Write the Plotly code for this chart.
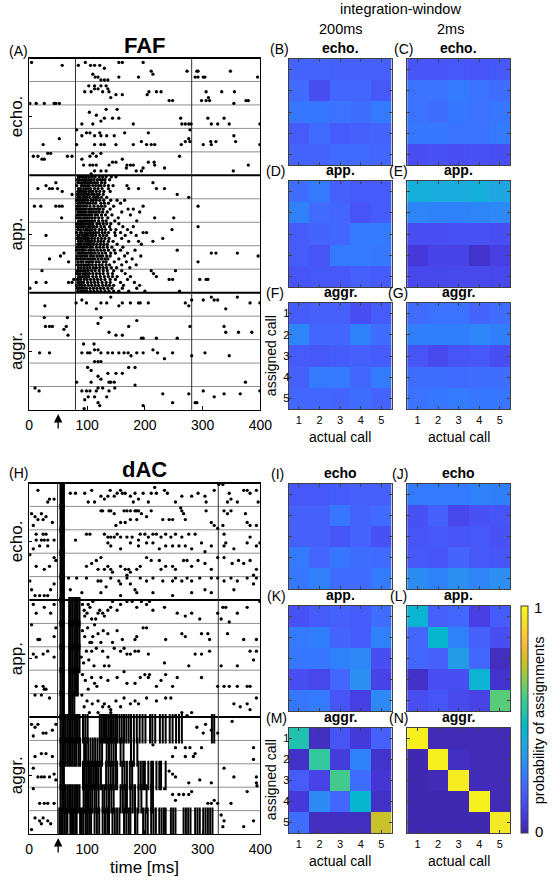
import plotly.graph_objects as go

# ---------------- data ----------------
TIME_TICKS = [0, 100, 200, 300, 400]
CALL_TICKS = [1, 2, 3, 4, 5]
GROUP_NAMES = ["echo.", "app.", "aggr."]
N_REPS = 8

# FAF raster: per call, 8 repetition strings of spike times (ms)
faf_echo = [
    ["", "4 97 155 161 197", "57 85 106 113 122", "130", "211 273 290 292 348", "110 214",
     "114 119 155 189 287 292 301 304 395", "124 130 136"],
    ["", "103 113 124 133", "113 119 136", "96 107 127 138 207 220 228 306 333 355", "150 161 204",
     "141 310", "242 248 298 306 312 375 379", "1 12 26 43 46 52 354"],
    ["", "133 152", "104", "116", "130 144 155 262 309 337", "124",
     "91 110 180 264 270 276 280 315 326 346 399", ""],
    ["82 278", "99 105 122 165 206", "91 113 124 134 147 354", "52 276", "194 270 278 314 323 357",
     "24 82 113 124 130 150 180 203 211 217 263 301 315 399", "", ""],
    ["32 37 110 124", "7 15 66 74 105 116 260", "22 26 91 161", "144 150 206 216",
     "94 105 110 116 138 169 175 180 217 379", "168 197 234", "113 124 133 185 194 353", "107"],
]
faf_app = [
    ["85 88 92 95 99 104 109 114 121 127 133 142 150",
     "83 87 92 96 99 103 107 112 118 123 127 131 139",
     "46 84 86 90 94 97 101 105 108 113 118 125 131 214",
     "29 82 90 93 97 101 104 110 115 120 124 130 137 145 169",
     "15 35 40 49 85 89 94 98 102 106 113 119 126 137 172 189 220 234",
     "57 84 87 91 95 98 103 107 110 116 122 129 140",
     "74 83 86 89 93 96 100 103 108 112 117 121 128 256",
     "84 88 93 97 100 105 111 115 119 125 134 276"],
    ["82 86 90 93 96 101 107 111 116 122 129 141 152 165",
     "84 87 90 94 98 101 105 110 115 124 130 137 158",
     "9 20 46 52 57 83 85 89 94 99 105 112 119 125 131 146 197 292",
     "82 86 88 92 95 99 104 108 113 118 122 128 140 171 180",
     "84 88 91 95 98 103 107 111 116 121 127 135 160 191",
     "83 86 90 93 97 101 105 108 114 118 125 132 143 175",
     "56 82 86 89 94 97 100 104 109 114 120 126 136 154 217 250",
     "85 89 92 96 100 104 108 113 120 127 133 148 186"],
    ["82 86 89 92 95 99 103 106 110 117 122 128 134 141 155",
     "83 87 90 93 97 102 105 108 112 117 124 130 139 162 180 292",
     "84 85 89 94 98 101 105 109 114 121 126 132 141 150 170 247",
     "82 88 91 96 100 104 107 111 115 120 126 131 137 148 158 176 197 203",
     "29 84 87 92 95 98 101 106 110 115 122 128 134 149 166 185",
     "83 86 90 94 97 100 103 108 113 119 125 131 138 160 231",
     "85 89 92 97 101 105 108 113 119 124 129 137 145 172 189 214",
     "84 87 90 95 99 103 106 111 117 123 129 135 152 194"],
    ["83 86 90 93 96 100 105 109 116 122 128 135 143 162",
     "82 87 91 93 97 103 107 112 118 124 130 137 147 158 183 256",
     "60 84 86 90 94 98 102 106 109 114 120 126 132 141 149 170 315 323 360",
     "54 83 88 92 96 100 106 111 117 122 127 134 140 165 193 396",
     "35 82 85 89 92 96 101 105 109 113 119 125 131 136 155 178",
     "68 84 89 93 99 103 107 110 116 121 128 133 147 168 292",
     "83 86 90 94 98 102 104 109 115 121 126 133 139 160 185",
     "85 90 95 100 105 111 116 122 128 134 142 151 174"],
    ["22 83 86 90 94 97 102 108 114 121 128 135 146 160 211 253",
     "82 84 88 93 97 100 104 110 116 122 128 136 144 166 215",
     "85 88 92 96 99 103 110 116 123 130 137 144 152 175 220",
     "77 83 85 89 95 100 106 112 118 124 131 140 149 170 242 248 295 306 309",
     "12 29 68 74 84 87 90 94 101 107 113 119 126 133 140 158 182",
     "82 87 91 96 102 108 114 120 127 133 139 146 163 191",
     "1 83 86 90 94 99 105 111 117 123 129 136 143 161 186",
     "84 89 93 97 100 106 112 118 124 131 138 146 155 172 200 260"],
]
faf_aggr = [
    ["", "141 315 360", "91 281 301 320 326", "81 99 124 134 161 175 189 192 206 270 382 399",
     "27 155 276", "116 340", "", ""],
    ["26 66 124", "186", "119", "28 35 40 64 172 278 337", "60", "138 340 362 385", "67 150 161",
     "194 197 220 256"],
    ["", "94 112", "", "113 119 214", "18 35 91 101 105 124 136 144 155 164 171 186 197 222 248 304",
     "176 281 346", "234", "113 119 124"],
    ["", "101 172 183", "107", "136 150 161", "119", "124", "82 107 138 141 147 374", "183"],
    ["10 119 127 148", "17 91 99 105 116 138 301 399", "231 276 337 365", "102 113 134 320", "96",
     "119 248 287 290", "122 197", "95"],
]

# dAC raster: per call, "time:repetition" spikes
dac_echo = [
    "15:2 32:6 35:5 43:5 71:3 80:3 96:3 108:2 102:6 113:6 124:4 130:5 136:4 140:2 147:4 152:3 158:2 "
    "161:3 166:3 175:4 183:3 180:6 189:5 197:3 206:6 211:3 217:1 220:3 234:2 239:3 253:6 264:4 281:4 "
    "292:3 304:4 306:6 320:2 328:0 335:0 343:6 349:5 360:6 371:2 377:2 382:3 393:2 396:6 346:3",
    "4:2 10:3 15:4 21:2 24:4 29:3 7:6 40:5 124:1 127:1 138:1 141:1 147:2 164:1 169:1 175:1 183:1 186:1 "
    "189:1 211:1 262:0 264:1 267:2 270:4 231:4 242:4 248:4 194:2 203:3 186:4 175:4 158:5 166:5 150:6 "
    "306:1 315:5 320:6 326:7 335:6 337:1 343:2 374:2 377:5 382:6 393:6 349:1",
    "7:6 12:3 21:3 26:3 32:3 12:1 24:1 29:1 18:5 32:5 43:3 80:3 99:1 105:1 130:1 136:2 141:2 147:2 "
    "152:1 158:2 169:2 178:2 189:3 192:1 200:1 206:2 214:1 220:1 228:2 236:1 245:2 253:1 264:2 276:1 "
    "287:1 298:4 136:4 141:5 158:6 175:4 189:5 203:4 214:4 225:6 236:5 248:5 259:5 270:5 281:6 304:7 "
    "315:5 337:1 340:4 377:4 382:2 393:5 399:4 337:5 354:6",
    "1:0 12:4 26:5 35:4 43:1 46:2 99:4 108:3 116:2 124:1 119:5 130:5 136:4 141:5 144:6 158:4 166:5 "
    "172:5 175:6 186:5 192:4 203:1 211:2 225:2 236:4 228:5 248:4 253:5 267:2 273:2 281:4 292:2 304:3 "
    "315:5 326:1 337:1 351:3 362:2 371:3 382:2 393:5 388:7 169:7",
    "1:1 4:4 10:6 18:6 26:6 32:6 37:4 43:2 68:0 71:4 82:0 99:0 119:1 124:1 133:3 141:0 155:1 158:2 "
    "169:0 175:2 183:4 192:0 203:1 214:0 231:1 248:1 253:0 264:1 273:0 281:1 295:0 304:4 315:0 326:0 "
    "337:1 349:0 360:1 377:0 388:2 393:0 354:4 315:5 281:5 248:6 214:5 186:5 158:6 124:5 91:5",
]
dac_app = [
    "7:1 12:4 26:2 37:4 43:1 102:1 122:3 127:4 136:3 141:2 144:0 152:3 158:1 169:0 178:0 186:2 194:0 "
    "203:1 208:0 214:3 234:2 256:4 270:5 281:4 295:6 326:4 335:2 340:2 332:6 346:7 360:4 377:2 399:0 "
    "130:5 108:6 96:5 119:4 92:1 95:3 100:4 105:2 110:0 115:6",
    "4:0 15:5 18:5 43:4 46:1 110:4 119:3 136:3 152:2 161:5 183:5 186:4 197:1 203:1 236:5 264:3 270:4 "
    "298:3 309:3 312:5 343:3 371:5 393:5 124:6 144:6 108:6 92:2 96:4 101:1 105:6 113:0 128:2",
    "7:2 12:3 24:2 32:1 43:3 108:1 116:0 127:1 136:3 147:0 158:1 164:0 169:2 175:2 183:1 189:1 206:2 "
    "234:5 276:6 287:2 298:2 312:1 332:6 360:6 382:1 388:4 393:1 130:6 138:6 90:3 94:5 99:1 103:4 112:6",
    "12:5 24:5 26:6 29:6 124:2 136:3 152:2 164:0 169:4 183:4 192:2 200:1 206:2 208:1 220:5 228:3 236:1 "
    "248:5 256:2 298:2 326:5 337:5 346:5 360:5 377:5 382:5 113:4 92:1 97:3 102:6 108:2 117:5",
    "10:0 21:0 35:1 119:2 127:4 130:3 138:4 141:5 150:2 158:4 164:1 175:3 183:2 189:3 203:1 220:2 236:1 "
    "245:1 253:7 264:6 273:7 281:6 354:3 365:4 377:3 382:5 393:1 119:6 127:7 141:6 91:0 95:4 100:2 "
    "104:6 109:3",
]
dac_aggr = [
    "4:2 10:3 15:2 24:5 29:5 40:4 7:6 46:2 301:5 315:4 326:5 351:1 290:3 305:2",
    "10:5 21:4 29:4 40:5 214:1 253:2 270:2 278:2 287:4 298:2 248:5 270:5 284:5 388:2 388:6",
    "7:1 15:4 21:4 26:4 35:4 43:3 46:5 242:2 248:3 253:4 276:6 295:5 315:6 337:1 354:4 393:4 393:6 394:7",
    "7:0 18:5 26:5 32:5 43:5 234:0 248:2 259:2 267:2 276:2 281:1 253:4 309:5 315:5 320:4 326:5 349:5 377:1",
    "10:2 18:3 24:2 32:3 37:4 21:4 4:6 332:1 337:3 335:5 371:5 388:3",
]
# phase-locked spikes present in every repetition (times, ms)
dac_echo_bars = ["54 56 58 60", "54 56 58 60", "54 56 58 60", "54 56 58 60", "54 56 58 60"]
dac_app_bars = [
    "54 57 60 69 72 75 78 81 84 87",
    "54 57 60 69 72 75 78 81 84 87",
    "54 57 60 69 72 75 78 81 84 87",
    "54 57 60 69 72 75 78 81 84",
    "54 57 60 69 72 75 78",
]
dac_aggr_bars = [
    "54 57 60 63 66 69 72 75 78 81 84 87 93 97 101 122 125 128 131 134 137 140 143 146 149 152 "
    "156 160 164 168 172 176 181 186 191 196 201 209 213 218 226 231 236 243 248 254 259 264 316 320",
    "54 57 60 63 66 69 72 75 78 81 85 88 95 98 102 106 110 114 118 122 126 134 138 142 146 150 "
    "158 163 176 181 187",
    "54 57 60 93 96 99 102 105 108 111 114 117 120 124 133 137 141 145 149 152 161 165 169 174 178 "
    "189 193 197 200 206 211 214 220 225 228 236",
    "54 57 60 63 66 69 72 75 78 81 84 87 94 97 100 103 106 109 113 116 120 127 130 134 138 142 146 "
    "158 162 166 169 175 179 183 189 194 203 211 214",
    "52 55 58 61 64 66 71 74 77 80 82 88 91 94 98 101 104 107 113 117 121 127 131 135 138 144 148 "
    "152 156 164 168 172 175 183 187 197 201 205 211 215 219 225 229 233 236 245 249 253 267 271 "
    "275 279 287 291 295 301 305 309 313 317",
]
faf_vlines = [80, 281]
dac_vlines = [49, 327]
stim_time = 50

# probability of assignments (rows: assigned call 1-5, cols: actual call 1-5)
faf_200_echo = [[0.19, 0.19, 0.18, 0.18, 0.18], [0.21, 0.13, 0.20, 0.20, 0.16],
                [0.24, 0.24, 0.23, 0.22, 0.25], [0.17, 0.21, 0.17, 0.18, 0.19],
                [0.19, 0.19, 0.21, 0.21, 0.20]]
faf_2_echo = [[0.15, 0.15, 0.16, 0.15, 0.16], [0.23, 0.23, 0.25, 0.23, 0.22],
              [0.23, 0.22, 0.24, 0.23, 0.24], [0.24, 0.24, 0.23, 0.23, 0.25],
              [0.13, 0.14, 0.13, 0.14, 0.13]]
faf_200_app = [[0.22, 0.25, 0.18, 0.17, 0.17], [0.27, 0.21, 0.20, 0.15, 0.17],
               [0.17, 0.19, 0.20, 0.25, 0.25], [0.17, 0.15, 0.25, 0.25, 0.24],
               [0.15, 0.16, 0.16, 0.18, 0.17]]
faf_2_app = [[0.42, 0.41, 0.41, 0.42, 0.38], [0.28, 0.27, 0.27, 0.28, 0.29],
             [0.13, 0.13, 0.14, 0.14, 0.13], [0.07, 0.10, 0.10, 0.05, 0.09],
             [0.11, 0.11, 0.12, 0.12, 0.11]]
faf_200_aggr = [[0.17, 0.18, 0.18, 0.13, 0.17], [0.28, 0.20, 0.20, 0.27, 0.22],
                [0.17, 0.16, 0.17, 0.18, 0.17], [0.18, 0.25, 0.25, 0.20, 0.25],
                [0.20, 0.20, 0.19, 0.22, 0.19]]
faf_2_aggr = [[0.21, 0.23, 0.23, 0.19, 0.22], [0.26, 0.26, 0.26, 0.28, 0.26],
              [0.15, 0.12, 0.15, 0.16, 0.13], [0.22, 0.22, 0.21, 0.22, 0.22],
              [0.23, 0.24, 0.25, 0.24, 0.24]]
dac_200_echo = [[0.16, 0.16, 0.17, 0.18, 0.18], [0.18, 0.18, 0.24, 0.19, 0.21],
                [0.18, 0.18, 0.15, 0.19, 0.14], [0.25, 0.20, 0.24, 0.22, 0.21],
                [0.24, 0.27, 0.21, 0.21, 0.25]]
dac_2_echo = [[0.25, 0.25, 0.25, 0.27, 0.26], [0.14, 0.18, 0.11, 0.14, 0.15],
              [0.15, 0.16, 0.15, 0.16, 0.14], [0.16, 0.15, 0.19, 0.16, 0.15],
              [0.30, 0.27, 0.31, 0.28, 0.31]]
dac_200_app = [[0.14, 0.17, 0.18, 0.17, 0.22], [0.25, 0.26, 0.19, 0.17, 0.27],
               [0.24, 0.24, 0.27, 0.29, 0.13], [0.13, 0.11, 0.20, 0.31, 0.10],
               [0.24, 0.25, 0.15, 0.09, 0.29]]
dac_2_app = [[0.44, 0.18, 0.20, 0.09, 0.17], [0.20, 0.45, 0.27, 0.18, 0.13],
             [0.20, 0.18, 0.35, 0.20, 0.03], [0.04, 0.13, 0.13, 0.44, 0.05],
             [0.13, 0.15, 0.12, 0.10, 0.62]]
dac_200_aggr = [[0.52, 0.03, 0.15, 0.07, 0.18], [0.04, 0.56, 0.08, 0.27, 0.05],
                [0.17, 0.10, 0.59, 0.22, 0.06], [0.07, 0.30, 0.20, 0.45, 0.04],
                [0.22, 0.03, 0.03, 0.03, 0.75]]
dac_2_aggr = [[0.97, 0.02, 0.02, 0.02, 0.02], [0.01, 0.97, 0.03, 0.02, 0.02],
              [0.01, 0.02, 0.96, 0.02, 0.02], [0.01, 0.01, 0.01, 0.97, 0.02],
              [0.01, 0.01, 0.01, 0.01, 0.95]]

PARULA = [
    [0.2422, 0.1504, 0.6603], [0.2504, 0.1650, 0.7076], [0.2578, 0.1818, 0.7511], [0.2647, 0.1978, 0.7952],
    [0.2706, 0.2147, 0.8364], [0.2751, 0.2342, 0.8710], [0.2783, 0.2559, 0.8991], [0.2803, 0.2782, 0.9221],
    [0.2813, 0.3006, 0.9414], [0.2810, 0.3228, 0.9579], [0.2795, 0.3447, 0.9717], [0.2760, 0.3667, 0.9829],
    [0.2699, 0.3892, 0.9906], [0.2602, 0.4123, 0.9952], [0.2440, 0.4358, 0.9988], [0.2206, 0.4603, 0.9973],
    [0.1963, 0.4847, 0.9892], [0.1834, 0.5074, 0.9798], [0.1786, 0.5289, 0.9682], [0.1764, 0.5499, 0.9520],
    [0.1687, 0.5703, 0.9359], [0.1540, 0.5902, 0.9218], [0.1460, 0.6091, 0.9079], [0.1380, 0.6276, 0.8973],
    [0.1248, 0.6459, 0.8883], [0.1113, 0.6635, 0.8763], [0.0952, 0.6798, 0.8598], [0.0689, 0.6948, 0.8394],
    [0.0297, 0.7082, 0.8163], [0.0036, 0.7203, 0.7917], [0.0067, 0.7312, 0.7660], [0.0433, 0.7411, 0.7394],
    [0.0964, 0.7500, 0.7120], [0.1408, 0.7584, 0.6842], [0.1717, 0.7670, 0.6554], [0.1938, 0.7758, 0.6251],
    [0.2161, 0.7843, 0.5923], [0.2470, 0.7918, 0.5567], [0.2906, 0.7973, 0.5188], [0.3406, 0.8008, 0.4789],
    [0.3909, 0.8029, 0.4354], [0.4456, 0.8024, 0.3909], [0.5044, 0.7993, 0.3480], [0.5616, 0.7942, 0.3045],
    [0.6174, 0.7876, 0.2612], [0.6720, 0.7793, 0.2227], [0.7242, 0.7698, 0.1910], [0.7738, 0.7598, 0.1646],
    [0.8203, 0.7498, 0.1535], [0.8634, 0.7406, 0.1596], [0.9035, 0.7330, 0.1774], [0.9393, 0.7288, 0.2100],
    [0.9728, 0.7298, 0.2394], [0.9956, 0.7434, 0.2371], [0.9970, 0.7659, 0.2199], [0.9952, 0.7893, 0.2028],
    [0.9892, 0.8136, 0.1885], [0.9786, 0.8386, 0.1766], [0.9676, 0.8639, 0.1643], [0.9610, 0.8890, 0.1537],
    [0.9597, 0.9135, 0.1423], [0.9628, 0.9373, 0.1265], [0.9691, 0.9606, 0.1064], [0.9769, 0.9839, 0.0805],
]

# ---------------- helpers ----------------
W, H = 560, 883
FONT = "Liberation Sans, Arial, sans-serif"


def P(x):
    return x / W


def Q(y):
    return 1 - y / H


colorscale = [[i / (len(PARULA) - 1), "rgb(%d,%d,%d)" % tuple(round(c * 255) for c in rgb)]
              for i, rgb in enumerate(PARULA)]


def reps_xy(groups):
    xs, ys = [], []
    for g, calls in enumerate(groups):
        for c, reps in enumerate(calls):
            base = g * 5 + c
            for r, s in enumerate(reps):
                for t in s.split():
                    xs.append(float(t))
                    ys.append(base + (r + 0.5) / N_REPS)
    return xs, ys


def pairs_xy(groups):
    xs, ys = [], []
    for g, calls in enumerate(groups):
        for c, s in enumerate(calls):
            base = g * 5 + c
            for tok in s.split():
                t, r = tok.split(":")
                xs.append(float(t))
                ys.append(base + (int(r) + 0.5) / N_REPS)
    return xs, ys


def bars_xy(groups):
    xs, ys = [], []
    for g, calls in enumerate(groups):
        for c, s in enumerate(calls):
            for t in s.split():
                xs.append(float(t))
                ys.append(g * 5 + c + 0.5)
    return xs, ys


fig = go.Figure()

# FAF raster
fx, fy = reps_xy([faf_echo, faf_app, faf_aggr])
fig.add_trace(go.Scatter(x=fx, y=fy, mode="markers", xaxis="x", yaxis="y",
                         marker=dict(size=3.3, color="black", line=dict(width=0)),
                         showlegend=False, hoverinfo="skip"))
# dAC raster
bx, by = bars_xy([dac_echo_bars, dac_app_bars, dac_aggr_bars])
fig.add_trace(go.Scatter(x=bx, y=by, mode="markers", xaxis="x2", yaxis="y2",
                         marker=dict(symbol="line-ns", size=21, line=dict(width=2, color="black")),
                         showlegend=False, hoverinfo="skip"))
dx, dy = pairs_xy([dac_echo, dac_app, dac_aggr])
fig.add_trace(go.Scatter(x=dx, y=dy, mode="markers", xaxis="x2", yaxis="y2",
                         marker=dict(size=3.3, color="black", line=dict(width=0)),
                         showlegend=False, hoverinfo="skip"))

layout = dict(width=W, height=H, margin=dict(l=0, r=0, t=0, b=0),
              paper_bgcolor="white", plot_bgcolor="white",
              font=dict(family=FONT, color="black"), showlegend=False)

raster_pos = [("", (58, 410)), ("2", (483, 834))]
shapes = []
annotations = []
for ax, (top, bot) in raster_pos:
    layout["xaxis" + ax] = dict(domain=[P(26), P(264)], range=[0, 400], tickvals=TIME_TICKS,
                                ticks="inside", ticklen=4, tickcolor="black", showline=True,
                                linecolor="black", linewidth=1, mirror=True, showgrid=False,
                                zeroline=False, tickfont=dict(size=14), ticklabelstandoff=2,
                                anchor="y" + ax)
    layout["yaxis" + ax] = dict(domain=[Q(bot), Q(top)], range=[15, 0], tickvals=[2.5, 7.5, 12.5],
                                showticklabels=False, ticks="inside", ticklen=3, tickcolor="black",
                                showline=True, linecolor="black", linewidth=1, mirror=True,
                                showgrid=False, zeroline=False, anchor="x" + ax)
    for k in range(1, 15):
        grp = (k % 5 == 0)
        shapes.append(dict(type="line", xref="x%s domain" % ax, yref="y" + ax, x0=0, x1=1, y0=k, y1=k,
                           line=dict(color="black" if grp else "#8f8f8f", width=2 if grp else 1),
                           layer="below"))
    shapes.append(dict(type="line", xref="x%s domain" % ax, yref="y%s domain" % ax, x0=0, x1=1,
                       y0=1, y1=1, line=dict(color="black", width=2)))
    for t in (faf_vlines if ax == "" else dac_vlines):
        shapes.append(dict(type="line", xref="x" + ax, yref="y%s domain" % ax, x0=t, x1=t, y0=0, y1=1,
                           line=dict(color="#333333", width=1), layer="below"))
    annotations.append(dict(x=stim_time, xref="x" + ax, y=Q(bot + 4), yref="paper", text="",
                            showarrow=True, ax=0, ay=16, arrowhead=2, arrowsize=1.3, arrowwidth=1.3,
                            arrowcolor="black"))

# heatmaps
cols = [(293, 399), (415, 521)]
rows = [(59, 165), (181, 287), (303, 409), (484, 589), (606, 711), (728, 833)]
mats = [faf_200_echo, faf_2_echo, faf_200_app, faf_2_app, faf_200_aggr, faf_2_aggr,
        dac_200_echo, dac_2_echo, dac_200_app, dac_2_app, dac_200_aggr, dac_2_aggr]
for i, m in enumerate(mats):
    r, c = divmod(i, 2)
    n = str(i + 3)
    fig.add_trace(go.Heatmap(z=m, x=CALL_TICKS, y=CALL_TICKS, coloraxis="coloraxis",
                             xaxis="x" + n, yaxis="y" + n, hoverinfo="skip"))
    bottom = r in (2, 5)
    left = bottom and c == 0
    layout["xaxis" + n] = dict(domain=[P(cols[c][0]), P(cols[c][1])], range=[0.5, 5.5],
                               tickvals=CALL_TICKS, ticks="inside", ticklen=3, tickcolor="#404040",
                               showline=True, linecolor="#404040", linewidth=1, mirror="ticks",
                               showgrid=False, zeroline=False, showticklabels=bottom,
                               tickfont=dict(size=11), ticklabelstandoff=1, anchor="y" + n)
    layout["yaxis" + n] = dict(domain=[Q(rows[r][1]), Q(rows[r][0])], range=[5.5, 0.5],
                               tickvals=CALL_TICKS, ticks="inside", ticklen=3, tickcolor="#404040",
                               showline=True, linecolor="#404040", linewidth=1, mirror="ticks",
                               showgrid=False, zeroline=False, showticklabels=left,
                               tickfont=dict(size=11), ticklabelstandoff=-4, anchor="x" + n)

layout["coloraxis"] = dict(cmin=0, cmax=1, colorscale=colorscale,
                           colorbar=dict(thickness=7, thicknessmode="pixels", len=(833 - 606) / H,
                                         lenmode="fraction", x=P(532), xanchor="left", y=Q(606),
                                         yanchor="top", xpad=0, ypad=0, outlinewidth=1,
                                         outlinecolor="#404040", tickvals=[0, 1],
                                         showticklabels=False, ticks=""))


def txt(x, y, s, size, angle=0):
    annotations.append(dict(x=P(x), y=Q(y), xref="paper", yref="paper", text=s, showarrow=False,
                            xanchor="center", yanchor="middle", textangle=angle,
                            font=dict(size=size, family=FONT, color="black")))


txt(408, 9, "integration-window", 14.5)
txt(347, 29, "200ms", 14.5)
txt(460, 29, "2ms", 14.5)
txt(15, 51, "(A)", 14)
txt(15, 473, "(H)", 14)
txt(145, 45, "<b>FAF</b>", 22)
txt(145, 470, "<b>dAC</b>", 22)
for g, name in enumerate(GROUP_NAMES):
    txt(13, 58 + (g + 0.5) * 117.3, name, 17, -90)
    txt(13, 483 + (g + 0.5) * 117, name, 17, -90)
txt(145, 867, "time [ms]", 17)

panel_letters = ["(B)", "(C)", "(D)", "(E)", "(F)", "(G)", "(I)", "(J)", "(K)", "(L)", "(M)", "(N)"]
panel_titles = ["echo.", "echo.", "app.", "app.", "aggr.", "aggr.",
                "echo", "echo", "app.", "app.", "aggr.", "aggr."]
letter_x = [[284, 411], [279, 406], [279, 406], [282, 408], [281, 406], [281, 406]]
for i in range(12):
    r, c = divmod(i, 2)
    ytitle = rows[r][0] - 9
    txt(letter_x[r][c], ytitle - 1, panel_letters[i], 14)
    txt((cols[c][0] + cols[c][1]) / 2, ytitle - 2, "<b>%s</b>" % panel_titles[i], 14)
for yb in (409, 833):
    for c in cols:
        txt((c[0] + c[1]) / 2, yb + 28, "actual call", 14)
txt(275, 356, "assigned call", 14, -90)
txt(275, 780, "assigned call", 14, -90)
txt(550, 607, "1", 15)
txt(551, 831, "0", 15)
txt(551, 720, "probability of assignments", 14.5, -90)

layout["shapes"] = shapes
layout["annotations"] = annotations
fig.update_layout(**layout)
fig.write_html("out.html")
